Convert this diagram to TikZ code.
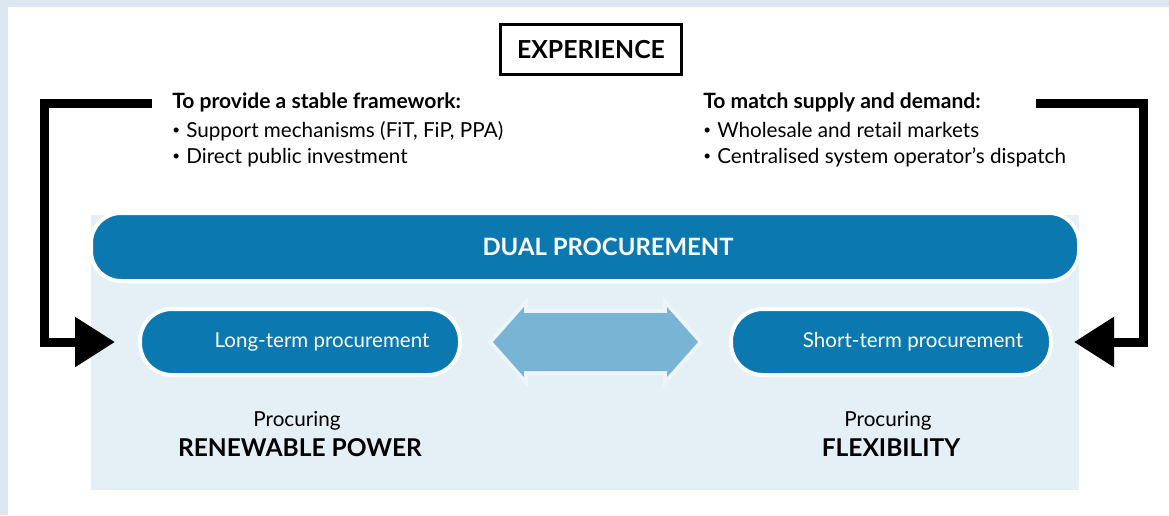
\documentclass[tikz,border=0pt]{standalone}
\usepackage{fontspec}
\setmainfont{Lato}
\usetikzlibrary{arrows.meta}

\definecolor{framebg}{RGB}{220,231,242}
\definecolor{irblue}{RGB}{11,120,175}
\definecolor{panelbg}{RGB}{228,239,246}
\definecolor{swapfill}{RGB}{120,180,212}
\definecolor{swapedge}{RGB}{238,245,250}

\newcommand{\dotitem}{\raisebox{0.12em}{\scalebox{0.65}{•}}\hspace{0.3em}}

\tikzset{
  headtxt/.style={font=\fontsize{15.8}{18}\selectfont\bfseries, anchor=base west, inner sep=0pt},
  itemtxt/.style={font=\fontsize{15.5}{18}\selectfont, anchor=base west, inner sep=0pt},
  pill/.style={fill=irblue, draw=white, line width=3pt, rounded corners=24pt,
    minimum width=240pt, minimum height=49.5pt, text=white,
    font=\fontsize{15.4}{18}\selectfont, inner sep=0pt},
  feed/.style={line width=6.75pt, -{Triangle[length=30pt,width=36pt]}},
  procsmall/.style={font=\fontsize{15.5}{18}\selectfont, anchor=base, inner sep=0pt},
  procbig/.style={font=\fontsize{18.4}{22}\selectfont\bfseries, anchor=base, inner sep=0pt}
}

\begin{document}
\begin{tikzpicture}[x=0.75pt, y=-0.75pt]
\useasboundingbox (0,0) rectangle (1169,515);
\fill[framebg] (0,0) rectangle (1169,7);
\fill[framebg] (0,0) rectangle (8,515);
\fill[panelbg] (91,215) rectangle (1079,490);

\node[draw, line width=2.25pt, minimum width=135.75pt, minimum height=37.5pt,
  font=\fontsize{18.6}{20}\selectfont\bfseries] (exp) at (591,49.5) {EXPERIENCE};

\node[headtxt] (frameL) at (172,108) {To provide a stable framework:};
\node[itemtxt] (frameL1) at (172,137) {\dotitem Support mechanisms (FiT, FiP, PPA)};
\node[itemtxt] (frameL2) at (172,163) {\dotitem Direct public investment};
\node[headtxt] (frameR) at (703,108) {To match supply and demand:};
\node[itemtxt] (frameR1) at (703,137) {\dotitem Wholesale and retail markets};
\node[itemtxt] (frameR2) at (703,163) {\dotitem Centralised system operator’s dispatch};

\node[pill, minimum width=741pt, minimum height=51pt, rounded corners=22.5pt,
  font=\fontsize{17.9}{22}\selectfont\bfseries] (dual) at (585,247)
  {\hspace*{34.5pt}DUAL PROCUREMENT};

\node[pill] (longp) at (300,342) {\hspace*{33pt}Long-term procurement};
\node[pill] (shortp) at (891,342) {\hspace*{33pt}Short-term procurement};

% two-way arrow between the two markets
\path[draw=swapedge, line width=6pt, postaction={fill=swapfill}]
  (493,342) -- (524,307) -- (524,313) -- (667,313) -- (667,307) -- (698,342)
  -- (667,377) -- (667,371) -- (524,371) -- (524,377) -- cycle;

\coordinate (inL) at (152,103);
\coordinate (turnL) at (44,103);
\draw[feed, shorten >=17.25pt] (inL) -- (turnL) |- (longp);
\coordinate (inR) at (1036,103);
\coordinate (turnR) at (1143.5,103);
\draw[feed, shorten >=15.75pt] (inR) -- (turnR) |- (shortp);

\node[procsmall] (procL) at (297,426) {Procuring};
\node[procbig] (procL1) at (300,456) {RENEWABLE POWER};
\node[procsmall] (procR) at (888,426) {Procuring};
\node[procbig] (procR1) at (891,456) {FLEXIBILITY};
\end{tikzpicture}
\end{document}
